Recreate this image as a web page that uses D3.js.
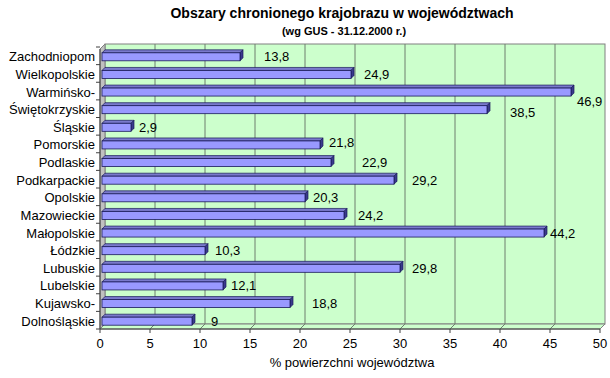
<!DOCTYPE html>
<html>
<head>
<meta charset="utf-8">
<script src="https://cdn.jsdelivr.net/npm/d3@7"></script>
<style>
body { margin: 0; background: #fff; }
text { font-family: "Liberation Sans", Arial, sans-serif; }
</style>
</head>
<body>
<div id="chart"></div>
<script>
// data
var regions = ["Zachodniopom", "Wielkopolskie", "Warmińsko-", "Świętokrzyskie", "Śląskie",
    "Pomorskie", "Podlaskie", "Podkarpackie", "Opolskie", "Mazowieckie",
    "Małopolskie", "Łódzkie", "Lubuskie", "Lubelskie", "Kujawsko-", "Dolnośląskie"];
var shares = [13.8, 24.9, 46.9, 38.5, 2.9, 21.8, 22.9, 29.2, 20.3, 24.2, 44.2, 10.3, 29.8, 12.1, 18.8, 9];
var ticks = [0, 5, 10, 15, 20, 25, 30, 35, 40, 45, 50];
// hand-moved data labels in the original (pixels)
var labelShift = [[21, 0], [10, 0], [3, 9], [20, 3], [5, 0], [6, -2], [28, 0], [15, 0],
    [5, 0], [11, 0], [3, 0], [7, 0], [9, 0], [5, 0], [19, 0], [16, 0]];

var W = 610, H = 378;
var DX = 5, DY = -5; // depth of the 3d walls

var svg = d3.select("#chart").append("svg").attr("width", W).attr("height", H);

var x = d3.scaleLinear().domain([0, 50]).range([100, 600]);
var y = d3.scaleBand().domain(regions).range([47, 329]);
var floorY = 329, topY = 49;

// back wall
svg.append("rect")
    .attr("x", x(0) + DX).attr("y", topY + DY)
    .attr("width", x(50) - x(0)).attr("height", floorY - topY)
    .attr("fill", "#ccffcc").attr("stroke", "#808080").attr("stroke-width", 1);

// floor
svg.append("path")
    .attr("d", "M" + x(0) + "," + floorY + "L" + x(50) + "," + floorY +
        "L" + (x(50) + DX) + "," + (floorY + DY) + "L" + (x(0) + DX) + "," + (floorY + DY) + "Z")
    .attr("fill", "#ccffcc").attr("stroke", "#808080");

// left wall
svg.append("path")
    .attr("d", "M" + x(0) + "," + topY + "L" + (x(0) + DX) + "," + (topY + DY) +
        "L" + (x(0) + DX) + "," + (floorY + DY) + "L" + x(0) + "," + floorY + "Z")
    .attr("fill", "#c0c0c0").attr("stroke", "#808080");

// gridlines on the wall and floor
svg.selectAll(".grid").data(ticks.slice(1, -1)).enter().append("path")
    .attr("class", "grid")
    .attr("d", function(d) {
        return "M" + (x(d) + DX) + "," + (topY + DY) + "L" + (x(d) + DX) + "," + (floorY + DY) +
            "L" + x(d) + "," + floorY;
    })
    .attr("fill", "none").attr("stroke", "#6f7f6f").attr("stroke-width", 1);

// axes
svg.append("line").attr("x1", x(0)).attr("x2", x(50)).attr("y1", floorY).attr("y2", floorY)
    .attr("stroke", "#404040");
svg.append("line").attr("x1", x(0)).attr("x2", x(0)).attr("y1", topY).attr("y2", floorY)
    .attr("stroke", "#404040");

svg.selectAll(".xtick").data(ticks).enter().append("line")
    .attr("x1", function(d) { return x(d); }).attr("x2", function(d) { return x(d); })
    .attr("y1", floorY).attr("y2", floorY + 4).attr("stroke", "#404040");
svg.selectAll(".xlab").data(ticks).enter().append("text")
    .attr("x", function(d) { return x(d); }).attr("y", floorY + 19)
    .attr("text-anchor", "middle").attr("font-size", 13)
    .text(function(d) { return d; });

var bounds = regions.map(function(r) { return y(r); }).concat([y.range()[1]]);
svg.selectAll(".ytick").data(bounds).enter().append("line")
    .attr("x1", x(0) - 4).attr("x2", x(0))
    .attr("y1", function(d) { return d; }).attr("y2", function(d) { return d; })
    .attr("stroke", "#404040");

svg.selectAll(".ylab").data(regions).enter().append("text")
    .attr("x", 95).attr("y", function(d) { return y(d) + y.bandwidth() / 2 + 5.5; })
    .attr("text-anchor", "end").attr("font-size", 13)
    .text(function(d) { return d; });

// 3d bars
var bh = 8, bd = 3;
var bars = svg.selectAll(".bar").data(shares).enter().append("g").attr("class", "bar");
bars.each(function(v, i) {
    var g = d3.select(this);
    var x0 = x(0) + 2, x1 = x(v) + 2;
    var yc = y(regions[i]) + y.bandwidth() / 2 + 1;
    var y0 = yc - bh / 2, y1 = yc + bh / 2;
    // top face
    g.append("path")
        .attr("d", "M" + x0 + "," + y0 + "L" + (x0 + bd) + "," + (y0 - bd) + "L" + (x1 + bd) + "," + (y0 - bd) +
            "L" + x1 + "," + y0 + "Z")
        .attr("fill", "#7a7acc").attr("stroke", "#1a1a5a").attr("stroke-width", 0.7);
    // side face
    g.append("path")
        .attr("d", "M" + x1 + "," + y0 + "L" + (x1 + bd) + "," + (y0 - bd) + "L" + (x1 + bd) + "," + (y1 - bd) +
            "L" + x1 + "," + y1 + "Z")
        .attr("fill", "#3a3a8c").attr("stroke", "#1a1a5a").attr("stroke-width", 0.7);
    // front face
    g.append("rect")
        .attr("x", x0).attr("y", y0).attr("width", x1 - x0).attr("height", bh)
        .attr("fill", "#9999ff").attr("stroke", "#1a1a5a").attr("stroke-width", 0.8);
    // value label
    g.append("text")
        .attr("x", x(v) + 2 + labelShift[i][0] + bd)
        .attr("y", yc + 4.5 + labelShift[i][1])
        .attr("font-size", 13)
        .text(String(v).replace(".", ","));
});

// titles
svg.append("text").attr("x", 342).attr("y", 18).attr("text-anchor", "middle")
    .attr("font-size", 14).attr("font-weight", "bold")
    .text("Obszary chronionego krajobrazu w województwach");
svg.append("text").attr("x", 344).attr("y", 35).attr("text-anchor", "middle")
    .attr("font-size", 11).attr("font-weight", "bold")
    .text("(wg GUS - 31.12.2000 r.)");
svg.append("text").attr("x", 352).attr("y", 367).attr("text-anchor", "middle")
    .attr("font-size", 13)
    .text("% powierzchni województwa");
</script>
</body>
</html>
